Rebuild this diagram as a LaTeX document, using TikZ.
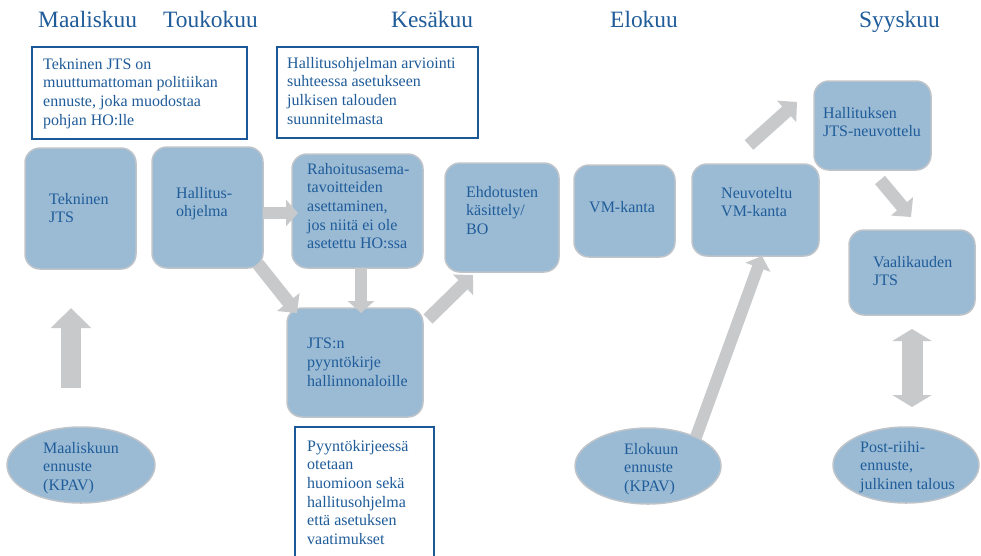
\documentclass[tikz,border=0pt]{standalone}
\usepackage{fontspec}
\setmainfont{Liberation Serif}
\usetikzlibrary{arrows.meta,shapes.geometric}
\definecolor{tblue}{RGB}{31,92,153}
\definecolor{nblue}{RGB}{26,88,152}
\definecolor{bfill}{RGB}{155,187,213}
\definecolor{bedge}{RGB}{190,196,202}
\definecolor{agray}{RGB}{200,201,203}
\tikzset{
  rbox/.style={draw=bedge, line width=1.5pt, fill=bfill, rounded corners=15pt, inner sep=0pt},
  ebox/.style={ellipse, draw=bedge, line width=1.5pt, fill=bfill, inner sep=0pt},
  note/.style={draw=nblue, line width=2.5pt, fill=white},
  txt/.style={anchor=north west, align=left, inner sep=0pt, yshift=11pt, text=tblue,
    font=\fontsize{16}{18.6}\selectfont, execute at begin node={\rule{0pt}{11pt}}},
  head/.style={anchor=base west, inner sep=0pt, text=tblue, font=\fontsize{23.4}{27}\selectfont},
  blk/.style={draw=agray, line width=12pt, -{Triangle[width=26pt,length=12pt]}},
  blkw/.style={draw=agray, line width=13pt, -{Triangle[width=28pt,length=14pt]}},
}
\begin{document}
\begin{tikzpicture}[x=1pt,y=-1pt]
\useasboundingbox (0,0) rectangle (981,555);
% headers
\node[head] (h1) at (38,27) {Maaliskuu};
\node[head] (h2) at (163,27) {Toukokuu};
\node[head] (h3) at (391,27) {Kesäkuu};
\node[head] (h4) at (610,27) {Elokuu};
\node[head] (h5) at (859,27) {Syyskuu};
% note boxes
\draw[note] (32,47) rectangle (247,139);
\node[txt] (n1) at (43,69) {Tekninen JTS on\\muuttumattoman politiikan\\ennuste, joka muodostaa\\pohjan HO:lle};
\draw[note] (277,47) rectangle (478,138);
\node[txt] (n2) at (287,68) {Hallitusohjelman arviointi\\suhteessa asetukseen\\julkisen talouden\\suunnitelmasta};
\draw[note] (295,427) rectangle (434,570);
\node[txt] (n3) at (307,451) {Pyyntökirjeessä\\otetaan\\huomioon sekä\\hallitusohjelma\\että asetuksen\\vaatimukset};
% rounded boxes
\node[rbox, minimum width=111pt, minimum height=121pt] (tekn) at (80.5,208.5) {};
\node[rbox, minimum width=111pt, minimum height=121pt] (hall) at (207.5,207.5) {};
\node[rbox, minimum width=131pt, minimum height=114pt] (rah) at (357.5,211) {};
\node[rbox, minimum width=136pt, minimum height=109pt] (jtsn) at (355,362.5) {};
\node[rbox, minimum width=114pt, minimum height=109pt] (ehd) at (502,217.5) {};
\node[rbox, minimum width=101pt, minimum height=92pt] (vmk) at (624.5,211) {};
\node[rbox, minimum width=127pt, minimum height=92pt] (neu) at (755.5,210) {};
\node[rbox, minimum width=117pt, minimum height=89pt] (halj) at (872.5,125.5) {};
\node[rbox, minimum width=126pt, minimum height=85pt] (vaa) at (912,272.5) {};
% ellipses
\node[ebox, minimum width=148pt, minimum height=76pt] (maal) at (81,465) {};
\node[ebox, minimum width=146pt, minimum height=76pt] (elo) at (648,466) {};
\node[ebox, minimum width=146pt, minimum height=76pt] (post) at (906,465) {};
% texts
\node[txt] (tekn-t) at (49,204) {Tekninen\\JTS};
\node[txt] (hall-t) at (176,198) {Hallitus-\\ohjelma};
\node[txt] (rah-t) at (307,174) {Rahoitusasema-\\tavoitteiden\\asettaminen,\\jos niitä ei ole\\asetettu HO:ssa};
\node[txt] (jtsn-t) at (307,349) {JTS:n\\pyyntökirje\\hallinnonaloille};
\node[txt] (ehd-t) at (466,197) {Ehdotusten\\käsittely/\\BO};
\node[txt] (vmk-t) at (589,212) {VM-kanta};
\node[txt] (neu-t) at (721,198) {Neuvoteltu\\VM-kanta};
\node[txt] (halj-t) at (823,118) {Hallituksen\\JTS-neuvottelu};
\node[txt] (vaa-t) at (873,267) {Vaalikauden\\JTS};
\node[txt] (maal-t) at (43,453) {Maaliskuun\\ennuste\\(KPAV)};
\node[txt] (elo-t) at (624,454) {Elokuun\\ennuste\\(KPAV)};
\node[txt] (post-t) at (860,452) {Post-riihi-\\ennuste,\\julkinen talous};
% arrow end points
\coordinate (a1s) at (71,388); \coordinate (a1e) at (71,308);
\coordinate (a2s) at (263,213); \coordinate (a2e) at (298,213);
\coordinate (a3s) at (258,264); \coordinate (a3e) at (297,313);
\coordinate (a4s) at (361,268); \coordinate (a4e) at (361,313);
\coordinate (a5s) at (428,319); \coordinate (a5e) at (473,275);
\coordinate (a6s) at (696,437); \coordinate (a6e) at (762,256);
\coordinate (a7s) at (749,145); \coordinate (a7e) at (797,102);
\coordinate (a8s) at (880,180); \coordinate (a8e) at (911,217);
\coordinate (a9s) at (912,329); \coordinate (a9e) at (912,407);
% arrows
\draw[draw=agray, line width=20pt, -{Triangle[width=39pt,length=20pt]}] (a1s) -- (a1e);
\draw[blk] (a2s) -- (a2e);
\draw[blkw] (a3s) -- (a3e);
\draw[blk] (a4s) -- (a4e);
\draw[blkw] (a5s) -- (a5e);
\draw[blk] (a6s) -- (a6e);
\draw[blkw] (a7s) -- (a7e);
\draw[blkw] (a8s) -- (a8e);
\draw[draw=agray, line width=21pt, {Triangle[width=39pt,length=12pt]}-{Triangle[width=39pt,length=12pt]}] (a9s) -- (a9e);
\end{tikzpicture}
\end{document}
